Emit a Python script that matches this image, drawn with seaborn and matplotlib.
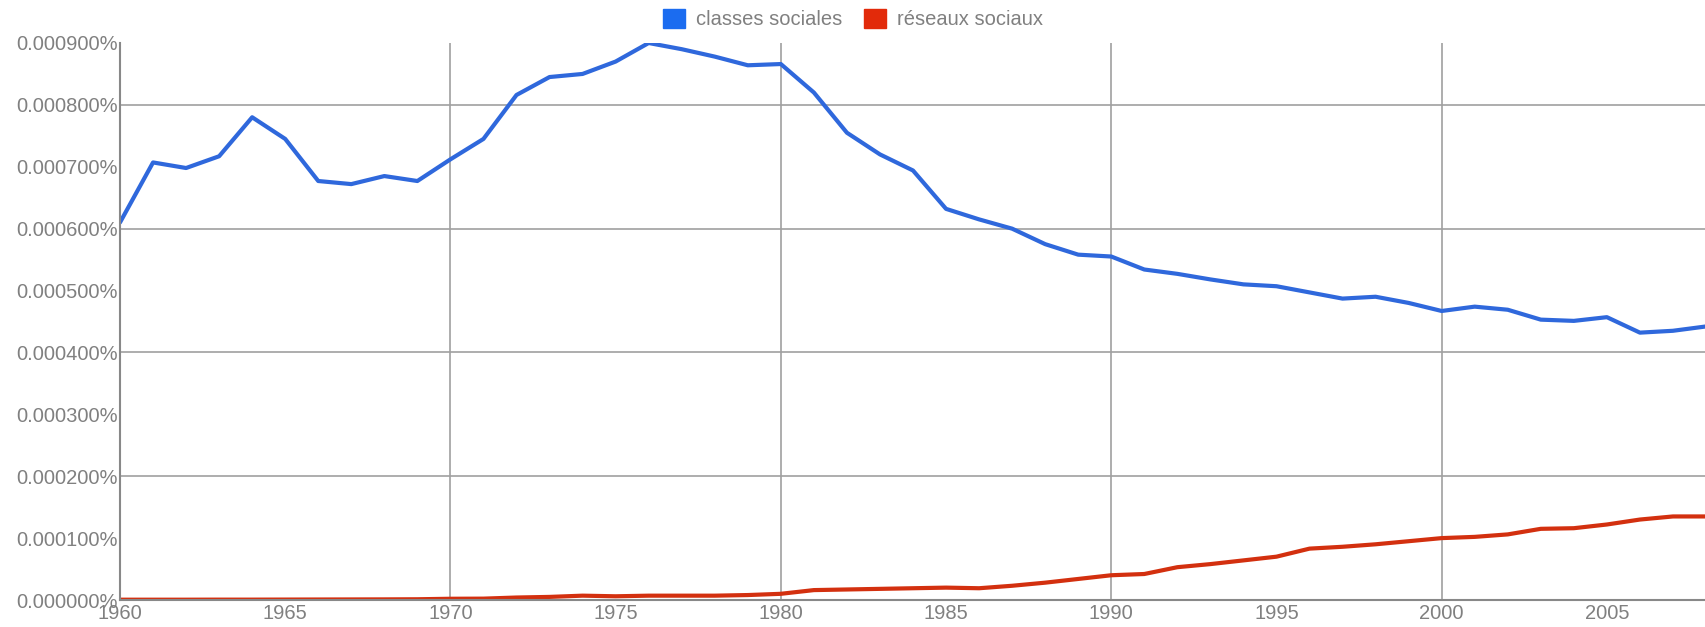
import matplotlib
matplotlib.use('Agg')
import matplotlib.pyplot as plt
import matplotlib.ticker as mticker
from matplotlib.patches import Patch
import seaborn as sns
import pandas as pd

years = list(range(1960, 2009))

# values in percent
classes_sociales = [
    0.000610, 0.000707, 0.000698, 0.000717, 0.000780, 0.000745, 0.000677, 0.000672,
    0.000685, 0.000677, 0.000712, 0.000745, 0.000816, 0.000845, 0.000850, 0.000870,
    0.000900, 0.000890, 0.000878, 0.000864, 0.000866, 0.000820, 0.000755, 0.000720,
    0.000694, 0.000632, 0.000615, 0.000600, 0.000575, 0.000558, 0.000555, 0.000534,
    0.000527, 0.000518, 0.000510, 0.000507, 0.000497, 0.000487, 0.000490, 0.000480,
    0.000467, 0.000474, 0.000469, 0.000453, 0.000451, 0.000457, 0.000432, 0.000435,
    0.000442,
]
reseaux_sociaux = [
    0.0000005, 0.0000005, 0.0000005, 0.0000006, 0.0000006, 0.0000007, 0.0000008, 0.0000009,
    0.0000010, 0.0000012, 0.0000020, 0.0000022, 0.0000040, 0.0000050, 0.0000070, 0.0000060,
    0.0000070, 0.0000070, 0.0000070, 0.0000080, 0.0000100, 0.0000160, 0.0000170, 0.0000180,
    0.0000190, 0.0000200, 0.0000190, 0.0000230, 0.0000280, 0.0000340, 0.0000400, 0.0000420,
    0.0000530, 0.0000580, 0.0000640, 0.0000700, 0.0000830, 0.0000860, 0.0000900, 0.0000950,
    0.0001000, 0.0001020, 0.0001060, 0.0001150, 0.0001160, 0.0001220, 0.0001300, 0.0001350,
    0.0001350,
]
series_names = ['classes sociales', 'réseaux sociaux']
line_colors = ['#2f68dc', '#d3300f']
legend_colors = ['#1b6cf0', '#e22a0a']

df = pd.DataFrame({
    'year': years * 2,
    'value': classes_sociales + reseaux_sociaux,
    'series': [series_names[0]] * len(years) + [series_names[1]] * len(years),
})

sns.set_style('white')
plt.rcParams['font.family'] = ['Liberation Sans', 'DejaVu Sans']

fig = plt.figure(figsize=(17.06, 6.27), dpi=100)
ax = fig.add_axes([120 / 1706, 27 / 627, 1 - 120 / 1706, 557 / 627])

sns.lineplot(data=df, x='year', y='value', hue='series', palette=line_colors,
             linewidth=3, ax=ax, legend=False)
for ln in ax.lines:
    ln.set_solid_joinstyle('round')

ax.set_xlim(1960, 2008)
ax.set_ylim(0, 0.0009)
ax.set_xticks(range(1960, 2009, 5))
ax.set_yticks([i * 0.0001 for i in range(10)])
ax.yaxis.set_major_formatter(mticker.FuncFormatter(lambda v, p: f'{v:.6f}%'))

for yv in [0.0002, 0.0004, 0.0006, 0.0008]:
    ax.axhline(yv, color='#a0a0a0', lw=1.2, zorder=0)
for xv in [1970, 1980, 1990, 2000]:
    ax.axvline(xv, color='#a0a0a0', lw=1.2, zorder=0)

ax.tick_params(axis='both', length=0, labelsize=14.5, colors='#808080')
ax.tick_params(axis='y', pad=1.5)
ax.tick_params(axis='x', pad=3)
ax.set_xlabel('')
ax.set_ylabel('')

for side in ['top', 'right']:
    ax.spines[side].set_visible(False)
for side in ['left', 'bottom']:
    ax.spines[side].set_color('#888888')
    ax.spines[side].set_linewidth(1.5)

handles = [Patch(facecolor=c, edgecolor=c) for c in legend_colors]
fig.legend(handles, series_names, loc='center', bbox_to_anchor=(0.5, 0.970),
           ncol=2, frameon=False, fontsize=14.5, labelcolor='#808080',
           handlelength=1.1, handleheight=1.1, handletextpad=0.55, columnspacing=1.1)

fig.savefig('out.png', dpi=100)
